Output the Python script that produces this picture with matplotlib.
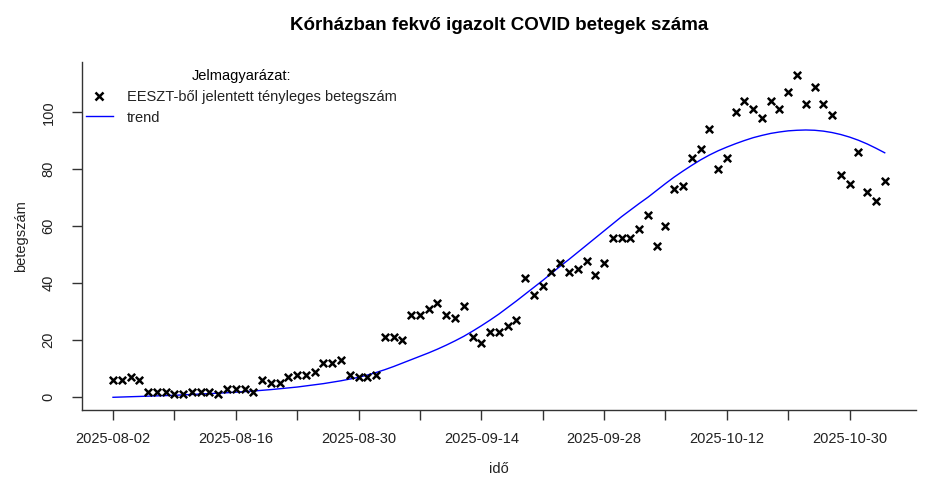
import matplotlib
matplotlib.use("Agg")
import matplotlib.pyplot as plt
from matplotlib.lines import Line2D

plt.rcParams['font.family'] = ['Liberation Sans', 'DejaVu Sans']

# observed daily counts (index 1..89)
betegszam = [6, 6, 7, 6, 2, 2, 2, 1, 1, 2, 2, 2, 1, 3, 3, 3, 2, 6, 5, 5,
             7, 8, 8, 9, 12, 12, 13, 8, 7, 7, 8, 21, 21, 20, 29, 29, 31, 33, 29, 28,
             32, 21, 19, 23, 23, 25, 27, 42, 36, 39, 44, 47, 44, 45, 48, 43, 47, 56, 56, 56,
             59, 64, 53, 60, 73, 74, 84, 87, 94, 80, 84, 100, 104, 101, 98, 104, 101, 107, 113, 103,
             109, 103, 99, 78, 75, 86, 72, 69, 76]

trend = [0.0, 0.1, 0.2, 0.3, 0.4, 0.5, 0.6, 0.7, 0.85, 1.0,
         1.15, 1.3, 1.45, 1.6, 1.8, 2.0, 2.2, 2.45, 2.7, 3.0,
         3.3, 3.6, 4.0, 4.4, 4.8, 5.3, 5.8, 6.4, 7.0, 7.8,
         8.7, 9.7, 10.8, 12.0, 13.2, 14.4, 15.6, 16.9, 18.3, 19.8,
         21.4, 23.2, 25.1, 27.1, 29.2, 31.5, 33.8, 36.2, 38.6, 41.0,
         43.5, 46.0, 48.4, 50.9, 53.4, 55.9, 58.4, 60.9, 63.4, 65.7,
         68.0, 70.2, 72.6, 75.0, 77.3, 79.4, 81.4, 83.3, 85.0, 86.5,
         87.8, 89.0, 90.1, 91.1, 91.9, 92.6, 93.1, 93.5, 93.7, 93.8,
         93.7, 93.4, 92.9, 92.2, 91.3, 90.2, 88.9, 87.4, 85.8]

# labelled x positions (observation index) and their dates
label_idx = [1, 15, 29, 43, 57, 71, 85]
label_dates = ["2025-08-02", "2025-08-16", "2025-08-30", "2025-09-14",
               "2025-09-28", "2025-10-12", "2025-10-30"]
y_ticks = [0, 20, 40, 60, 80, 100]

idx = list(range(1, len(betegszam) + 1))

fig = plt.figure(figsize=(9.27, 4.92), dpi=100)
ax_rect = [0.0886, 0.1663, 0.8991, 0.7069]
ax = fig.add_axes(ax_rect)

ax.plot(idx, trend, color='#0000FF', lw=1.0, zorder=2)
ax.scatter(idx, betegszam, marker='x', color='black', s=28, linewidths=1.8, zorder=3)

n = len(idx)
pad_x = 0.04 * (n - 1)
ax.set_xlim(1 - pad_x, n + pad_x)
ymax = max(betegszam)
ax.set_ylim(-0.04 * ymax, ymax * 1.04)

minor = list(range(1, n + 1, 7))
ax.set_xticks(minor)
lab = []
for t in minor:
    lab.append(label_dates[label_idx.index(t)] if t in label_idx else "")
ax.set_xticklabels(lab)
ax.set_yticks(y_ticks)
ax.set_yticklabels([str(v) for v in y_ticks], rotation=90, va='center')

for s in ['top', 'right']:
    ax.spines[s].set_visible(False)
for s in ['left', 'bottom']:
    ax.spines[s].set_color('#333333')
    ax.spines[s].set_linewidth(1.0)
ax.tick_params(axis='both', length=7, width=1.0, color='#333333', labelsize=10.5,
               labelcolor='#222222')
ax.tick_params(axis='x', pad=9)
ax.tick_params(axis='y', pad=12)

ax.set_xlabel("idő", fontsize=10.5, color='#222222', labelpad=11)
ax.set_ylabel("betegszám", fontsize=10.5, color='#222222', labelpad=10)
fig.suptitle("Kórházban fekvő igazolt COVID betegek száma", fontsize=13.5,
             fontweight='bold', x=ax_rect[0] + ax_rect[2] / 2, y=0.949, va='center')

handles = [Line2D([], [], marker='x', linestyle='None', color='black', markersize=5.5,
                  markeredgewidth=1.8),
           Line2D([], [], color='#0000FF', lw=1.0)]
leg = ax.legend(handles, ["EESZT-ből jelentett tényleges betegszám", "trend"],
                title="Jelmagyarázat:", loc='upper left', bbox_to_anchor=(-0.0076, 1.009),
                frameon=False, fontsize=10.5, title_fontsize=10.5,
                handlelength=1.85, handletextpad=0.96, labelspacing=0.45,
                borderaxespad=0.3)
for t in leg.get_texts():
    t.set_color('#222222')

fig.savefig("out.png", dpi=100)
